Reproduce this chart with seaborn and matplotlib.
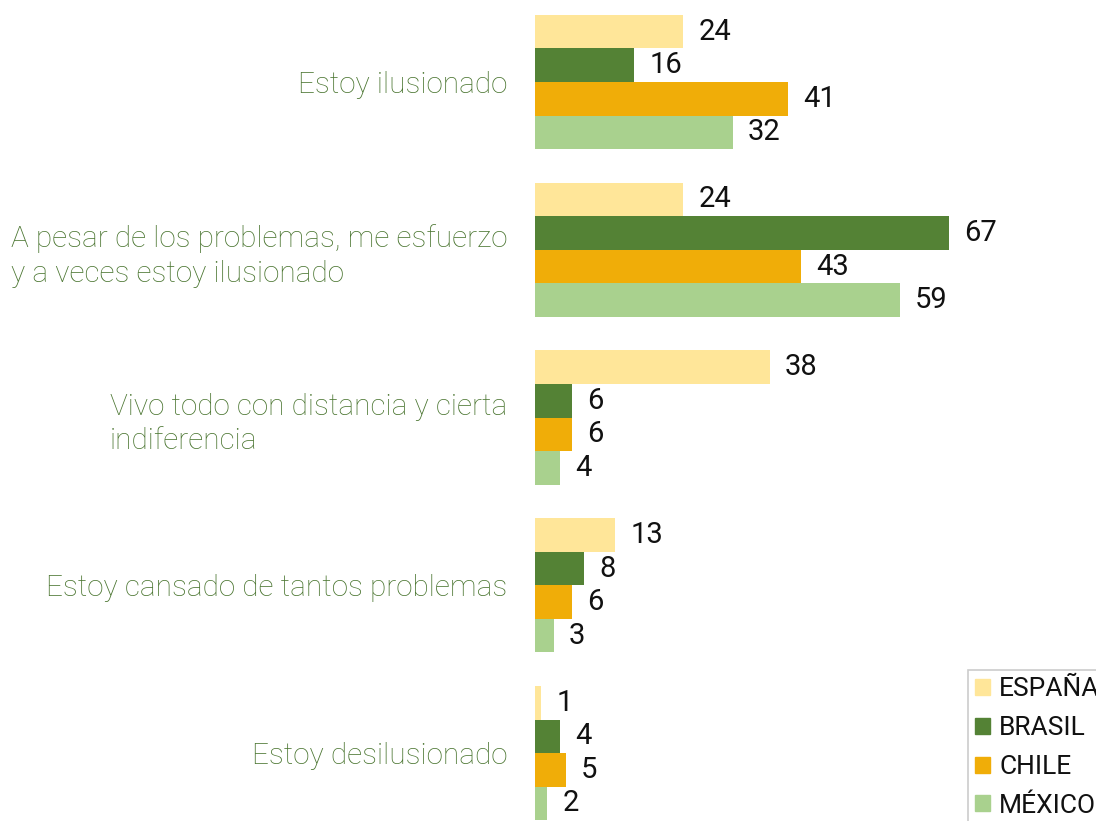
import matplotlib
matplotlib.use("Agg")
import matplotlib.pyplot as plt
import seaborn as sns
import pandas as pd

categories = [
    "Estoy ilusionado",
    "A pesar de los problemas, me esfuerzo\ny a veces estoy ilusionado",
    "Vivo todo con distancia y cierta\nindiferencia",
    "Estoy cansado de tantos problemas",
    "Estoy desilusionado",
]
countries = ["ESPAÑA", "BRASIL", "CHILE", "MÉXICO"]
espana = [24, 24, 38, 13, 1]
brasil = [16, 67, 6, 8, 4]
chile = [41, 43, 6, 6, 5]
mexico = [32, 59, 4, 3, 2]
colors = ["#FFE699", "#548235", "#F0AD08", "#A9D18E"]

rows = []
for country, vals in zip(countries, [espana, brasil, chile, mexico]):
    for cat, v in zip(categories, vals):
        rows.append({"categoria": cat, "pais": country, "valor": v})
df = pd.DataFrame(rows)

sns.set_style("white")
plt.rcParams["font.family"] = ["Roboto", "DejaVu Sans"]

fig = plt.figure(figsize=(10.96, 8.21), dpi=100)
W, H = 1096, 821
ax = fig.add_axes([535 / W, 0, (W - 535) / W, 1])

sns.barplot(
    data=df, y="categoria", x="valor", hue="pais",
    order=categories, hue_order=countries, palette=colors,
    orient="h", width=0.8, saturation=1, ax=ax, legend=True,
    linewidth=0,
)

for cont in ax.containers:
    ax.bar_label(cont, padding=11, fontsize=21, color="#111111")

ax.set_xlim(0, 90.8)
ax.set_ylim(4.405, -0.489)
ax.set_xlabel("")
ax.set_ylabel("")
ax.set_xticks([])
sns.despine(ax=ax, left=True, bottom=True)
ax.tick_params(axis="y", length=0, pad=20)
for lbl in ax.get_yticklabels():
    lbl.set_color("#4A7530")
    lbl.set_fontsize(21.4)
    lbl.set_fontweight("light")
    lbl.set_multialignment("left")
    lbl.set_linespacing(1.3)

ax.legend_.remove()
handles = [plt.Rectangle((0, 0), 1, 1, color=c) for c in colors]
leg = fig.legend(
    handles, countries, loc="upper left",
    bbox_to_anchor=(968 / W, 1 - 670 / H), bbox_transform=fig.transFigure,
    frameon=True, fancybox=False, fontsize=19, handlelength=0.55,
    handleheight=0.55, handletextpad=0.35, labelspacing=0.56,
    borderpad=0.28, borderaxespad=0,
)
leg.get_frame().set_edgecolor("#BFBFBF")
leg.get_frame().set_linewidth(1.2)
for t in leg.get_texts():
    t.set_color("#111111")

fig.savefig("out.png", dpi=100)
